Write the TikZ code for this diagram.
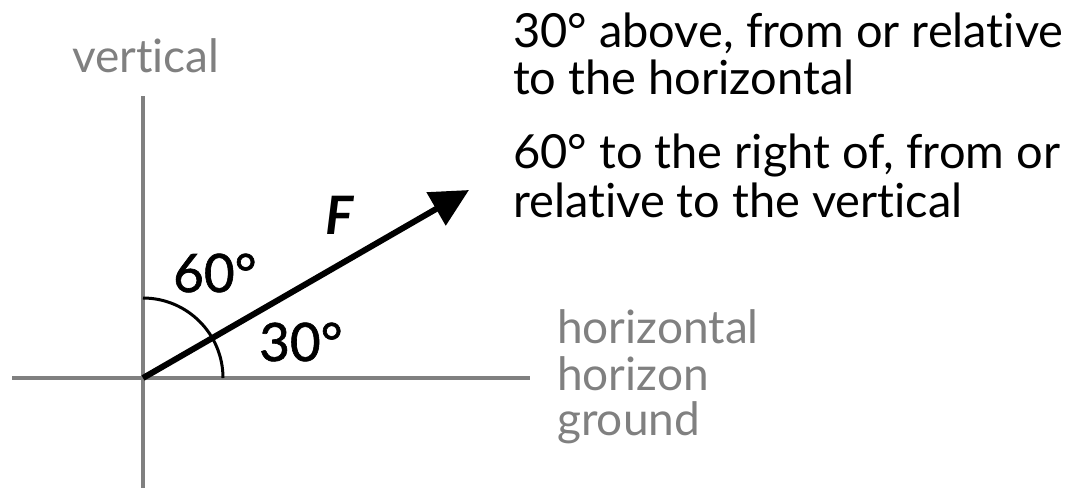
\documentclass[tikz,border=0pt]{standalone}
\usepackage{fontspec}
\setmainfont{Lato}[Ligatures=NoCommon]
\newfontfamily\medfont{Lato}[Ligatures=NoCommon,FakeBold=1.2]
\usetikzlibrary{arrows.meta}
\definecolor{axisgray}{HTML}{808080}
\begin{document}
\begin{tikzpicture}[x=1pt,y=-1pt,
  axis/.style={draw=axisgray,line width=4.5pt},
  force/.style={draw=black,line width=6pt,-{Triangle[length=38pt,width=37pt]}},
  anglearc/.style={draw=black,line width=3pt},
  graylabel/.style={text=axisgray,font=\fontsize{46}{46}\selectfont,inner sep=0pt,anchor=base west},
  desc/.style={text=black,font=\fontsize{47}{49}\selectfont,inner sep=0pt,anchor=base west},
  anglelabel/.style={text=black,font=\fontsize{53}{55}\medfont,inner sep=0pt,anchor=base west},
  flabel/.style={text=black,font=\fontsize{53}{55}\selectfont\bfseries\itshape,inner sep=0pt,anchor=base west}]
\useasboundingbox (0,0) rectangle (1091,488);
\coordinate (O) at (143,378);
\coordinate (hl) at (12,378);
\coordinate (hr) at (530,378);
\coordinate (vt) at (143,96);
\coordinate (vb) at (143,488);
\coordinate (tip) at (469,190);
\draw[axis] (hl) -- (hr);
\draw[axis] (vt) -- (vb);
\draw[anglearc] (143,298) arc[start angle=-90,end angle=0,radius=80];
\draw[force] (O) -- (tip);
\node[graylabel] (vert) at (72,72) {vertical};
\node[graylabel] (h1) at (557,343) {horizontal};
\node[graylabel] (h2) at (557,390) {horizon};
\node[graylabel] (h3) at (557,435) {ground};
\node[anglelabel] (a60) at (173,292) {60°};
\node[anglelabel] (a30) at (259,361) {30°};
\node[flabel] (F) at (325,234) {F};
\node[desc] (d1) at (513,47) {30° above, from or relative};
\node[desc] (d2) at (513,94) {to the horizontal};
\node[desc] (d3) at (513,168) {60° to the right of, from or};
\node[desc] (d4) at (513,217) {relative to the vertical};
\end{tikzpicture}
\end{document}
